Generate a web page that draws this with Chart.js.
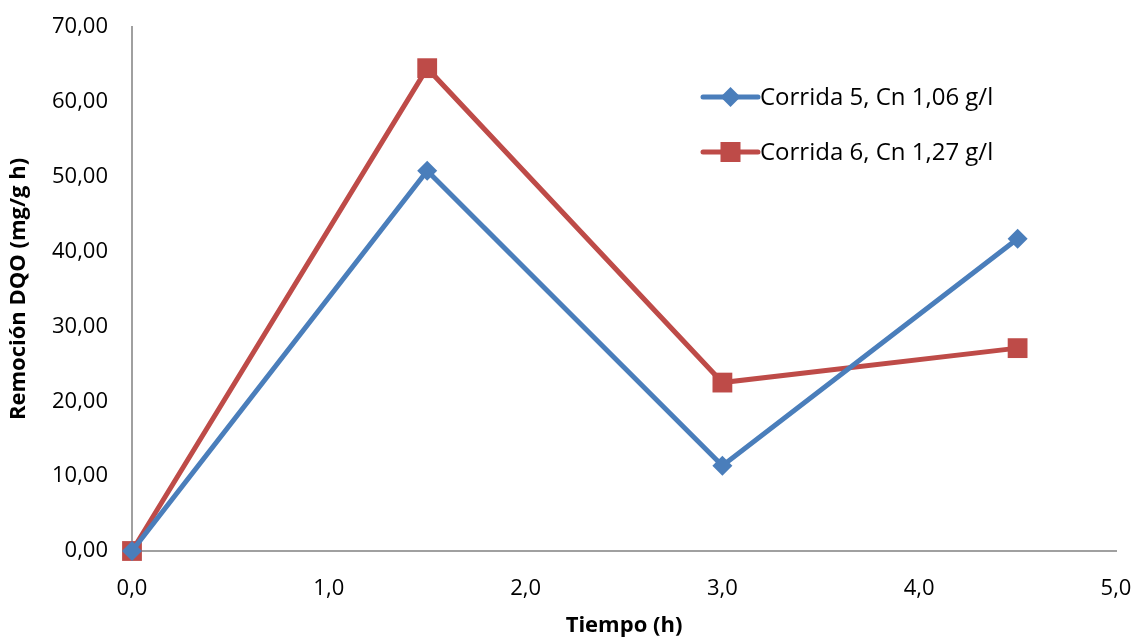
<!DOCTYPE html>
<html>
<head>
<meta charset="utf-8">
<script src="https://cdn.jsdelivr.net/npm/chart.js@4"></script>
<style>
  html, body { margin: 0; padding: 0; background: #fff; }
  #wrap { width: 1135px; height: 639px; }
</style>
</head>
<body>
<div id="wrap"><canvas id="remocionChart" width="1135" height="639"></canvas></div>
<script>
// tiempo (h) y remoción DQO (mg/g h) por corrida
const tiempos = [0, 1.5, 3, 4.5];
const corrida5 = [0, 50.8, 11.4, 41.7];
const corrida6 = [0, 64.5, 22.5, 27.1];
const nombres = ['Corrida 5, Cn 1,06 g/l', 'Corrida 6, Cn 1,27 g/l'];

const azul = '#4a7ebb';
const rojo = '#be4b48';
const fuente = "'Open Sans', 'Noto Sans', sans-serif";

function puntos(valores) {
    return tiempos.map((t, i) => ({ x: t, y: valores[i] }));
}

// leyenda dibujada dentro del área del gráfico
const leyendaInterna = {
    id: 'leyendaInterna',
    afterDraw(chart) {
        const ctx = chart.ctx;
        const x0 = 703, x1 = 758;
        const filas = [97, 152];
        ctx.save();
        chart.data.datasets.forEach((ds, i) => {
            const y = filas[i];
            ctx.strokeStyle = ds.borderColor;
            ctx.lineWidth = 5;
            ctx.lineCap = 'round';
            ctx.beginPath();
            ctx.moveTo(x0, y);
            ctx.lineTo(x1, y);
            ctx.stroke();
            ctx.fillStyle = ds.backgroundColor;
            const cx = (x0 + x1) / 2;
            if (ds.pointStyle === 'rectRot') {
                ctx.beginPath();
                ctx.moveTo(cx, y - 10);
                ctx.lineTo(cx + 10, y);
                ctx.lineTo(cx, y + 10);
                ctx.lineTo(cx - 10, y);
                ctx.closePath();
                ctx.fill();
            } else {
                ctx.fillRect(cx - 10, y - 10, 20, 20);
            }
            ctx.fillStyle = '#000';
            ctx.font = '24px ' + fuente;
            ctx.textBaseline = 'middle';
            ctx.fillText(ds.label, x1 + 2, y + 1);
        });
        ctx.restore();
    }
};

const config = {
    type: 'line',
    data: {
        datasets: [{
            label: nombres[0],
            data: puntos(corrida5),
            borderColor: azul,
            backgroundColor: azul,
            borderWidth: 5,
            pointStyle: 'rectRot',
            pointRadius: 10,
            pointHoverRadius: 10,
            pointBorderWidth: 0,
            tension: 0,
            clip: false
        }, {
            label: nombres[1],
            data: puntos(corrida6),
            borderColor: rojo,
            backgroundColor: rojo,
            borderWidth: 5,
            pointStyle: 'rect',
            pointRadius: 14,
            pointHoverRadius: 14,
            pointBorderWidth: 0,
            tension: 0,
            clip: false
        }]
    },
    options: {
        responsive: false,
        animation: false,
        layout: { padding: { left: 0, right: 19, top: 27, bottom: 0 } },
        plugins: {
            legend: { display: false },
            tooltip: { enabled: false }
        },
        scales: {
            x: {
                type: 'linear',
                min: 0,
                max: 5,
                grid: { display: false, drawTicks: false },
                border: { display: true, color: '#a0a0a0', width: 2 },
                ticks: {
                    stepSize: 1,
                    padding: 25,
                    color: '#000',
                    font: { family: fuente, size: 22 },
                    callback: v => v.toFixed(1).replace('.', ',')
                },
                title: {
                    display: true,
                    text: 'Tiempo (h)',
                    color: '#000',
                    font: { family: fuente, size: 22, weight: 'bold' },
                    padding: { top: 0, bottom: 0 }
                },
                // los rótulos extremos pueden sobresalir del área
                afterFit(scale) {
                    scale.paddingLeft = 0;
                    scale.paddingRight = 0;
                    scale.height = 88;
                }
            },
            y: {
                min: 0,
                max: 70,
                grid: { display: false, drawTicks: false },
                border: { display: true, color: '#a0a0a0', width: 2 },
                ticks: {
                    stepSize: 10,
                    padding: 24,
                    color: '#000',
                    font: { family: fuente, size: 22 },
                    callback: v => v.toFixed(2).replace('.', ',')
                },
                title: {
                    display: true,
                    text: 'Remoción DQO (mg/g h)',
                    color: '#000',
                    font: { family: fuente, size: 22, weight: 'bold' },
                    padding: { top: 6, bottom: 0 }
                },
                afterFit(scale) {
                    scale.paddingTop = 0;
                    scale.paddingBottom = 0;
                    scale.width = 132;
                }
            }
        }
    },
    plugins: [leyendaInterna]
};

const ctx = document.getElementById('remocionChart').getContext('2d');
window.remocionChart = new Chart(ctx, config);
</script>
</body>
</html>
